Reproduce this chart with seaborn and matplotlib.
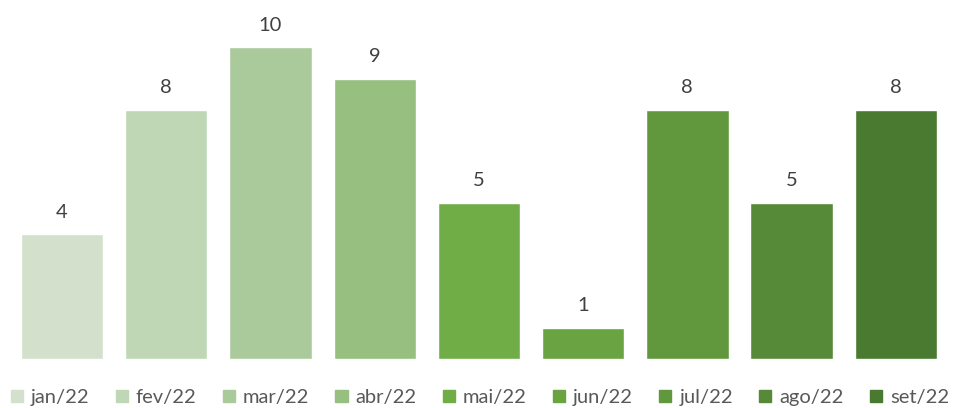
import matplotlib
matplotlib.use("Agg")
import matplotlib.pyplot as plt
import seaborn as sns
import pandas as pd

months = ["jan/22", "fev/22", "mar/22", "abr/22", "mai/22", "jun/22", "jul/22", "ago/22", "set/22"]
values = [4, 8, 10, 9, 5, 1, 8, 5, 8]
colors = ["#D3E0CC", "#C0D7B5", "#ABCA9C", "#96BF80", "#70AD47",
          "#6AA342", "#62983D", "#578A38", "#4A7A2F"]

df = pd.DataFrame({"Mês": months, "Valor": values})

sns.set_style("white")
plt.rcParams["font.family"] = ["Lato", "DejaVu Sans"]

fig = plt.figure(figsize=(9.6, 4.08), dpi=100)
ax = fig.add_axes([0.0104, 0.12, 0.977, 0.84])

sns.barplot(data=df, x="Mês", y="Valor", hue="Mês", palette=colors,
            dodge=False, width=0.79, saturation=1, legend=False, ax=ax)

for container in ax.containers:
    ax.bar_label(container, padding=10, fontsize=14.5, color="#404040")

ax.set_xlim(-0.5, len(months) - 0.5)
ax.set_ylim(0, 11)
ax.set_xlabel("")
ax.set_ylabel("")
ax.set_xticks([])
ax.set_yticks([])
sns.despine(ax=ax, left=True, bottom=True, top=True, right=True)

handles = [plt.Rectangle((0, 0), 1, 1, color=c) for c in colors]
fig.legend(handles, months, loc="lower center", ncol=9, frameon=False,
           bbox_to_anchor=(0.5, -0.04), fontsize=14.5, labelcolor="#595959",
           handlelength=0.6, handleheight=0.6, handletextpad=0.4,
           columnspacing=1.3)

fig.savefig("out.png", dpi=100)
